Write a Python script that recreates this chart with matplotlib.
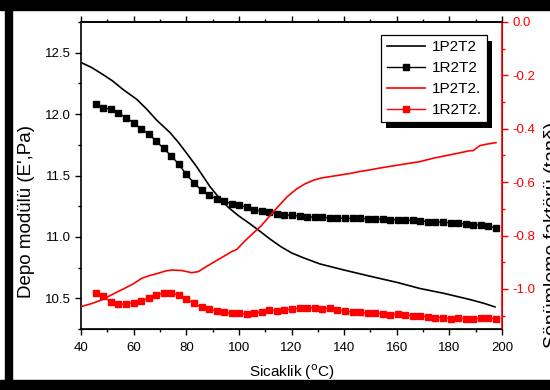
import matplotlib
matplotlib.use("Agg")
import matplotlib.pyplot as plt
from matplotlib.patches import Rectangle
from matplotlib.transforms import IdentityTransform

plt.rcParams['font.family'] = ['Liberation Sans', 'DejaVu Sans']

# 1P2T2 (left axis, line)
p_x = [40, 44, 48.5, 52, 56, 61.2, 65, 68.8, 73.8, 77, 80.2, 84, 86.5, 89, 92.8, 96, 100, 104,
       107.4, 112, 116, 120, 124.5, 130.8, 140, 149.8, 160, 168.8, 178, 187.8, 193, 197.3]
p_y = [12.42, 12.38, 12.32, 12.27, 12.20, 12.12, 12.04, 11.95, 11.85, 11.77, 11.68, 11.57, 11.49,
       11.41, 11.31, 11.24, 11.17, 11.11, 11.056, 10.98, 10.92, 10.87, 10.83, 10.78, 10.73, 10.68,
       10.63, 10.58, 10.54, 10.49, 10.46, 10.43]

# square series x positions
sq_x = [45.6, 48.5, 51.3, 54.2, 57.1, 60.0, 62.8, 65.7, 68.6, 71.4, 74.3, 77.2, 80.0, 82.9, 85.8,
        88.6, 91.5, 94.4, 97.3, 100.1, 103.0, 105.9, 108.7, 111.6, 114.5, 117.3, 120.2, 123.1,
        125.9, 128.8, 131.7, 134.6, 137.4, 140.3, 143.2, 146.0, 148.9, 151.8, 154.6, 157.5, 160.4,
        163.2, 166.1, 169.0, 171.9, 174.7, 177.6, 180.5, 183.3, 186.2, 189.1, 191.9, 194.8, 197.7]

# 1R2T2 (left axis, squares)
r_y = [12.08, 12.05, 12.04, 12.01, 11.97, 11.93, 11.88, 11.84, 11.78, 11.72, 11.66, 11.59, 11.51,
       11.44, 11.38, 11.34, 11.31, 11.29, 11.27, 11.26, 11.24, 11.22, 11.21, 11.20, 11.19, 11.18,
       11.175, 11.17, 11.165, 11.16, 11.16, 11.155, 11.155, 11.15, 11.15, 11.15, 11.148, 11.145,
       11.145, 11.14, 11.14, 11.135, 11.135, 11.13, 11.125, 11.12, 11.12, 11.115, 11.11, 11.105,
       11.10, 11.095, 11.085, 11.075]

# 1P2T2. (right axis, line)
pd_x = [40, 44, 47.9, 52, 56.7, 60, 63.1, 66, 69.4, 72, 74.5, 78.3, 82.1, 84.6, 87, 89.7, 93, 97.3,
        99.2, 102.3, 105, 108.3, 111, 114.3, 118.4, 122, 125, 128.5, 131.5, 134.8, 138, 142.4, 146,
        149.8, 153, 158, 163, 168.8, 174, 180, 184, 187.8, 189, 191.6, 194.5, 197.7]
pd_y = [-1.066, -1.055, -1.041, -1.020, -0.997, -0.980, -0.960, -0.950, -0.941, -0.933, -0.929,
        -0.931, -0.939, -0.935, -0.920, -0.904, -0.885, -0.860, -0.852, -0.820, -0.795, -0.765,
        -0.735, -0.698, -0.654, -0.625, -0.607, -0.592, -0.584, -0.579, -0.574, -0.567, -0.560,
        -0.554, -0.548, -0.540, -0.532, -0.523, -0.510, -0.498, -0.490, -0.482, -0.482, -0.463,
        -0.457, -0.452]

# 1R2T2. (right axis, squares)
rd_y = [-1.016, -1.026, -1.050, -1.056, -1.057, -1.051, -1.045, -1.035, -1.022, -1.016, -1.016,
        -1.022, -1.037, -1.054, -1.069, -1.074, -1.084, -1.087, -1.091, -1.091, -1.094, -1.090,
        -1.086, -1.080, -1.081, -1.079, -1.076, -1.072, -1.071, -1.070, -1.074, -1.072, -1.077,
        -1.084, -1.086, -1.087, -1.090, -1.090, -1.093, -1.096, -1.095, -1.098, -1.100, -1.101,
        -1.105, -1.107, -1.107, -1.112, -1.110, -1.111, -1.111, -1.110, -1.107, -1.113]

labels = ['1P2T2', '1R2T2', '1P2T2.', '1R2T2.']
x_ticks = [40, 60, 80, 100, 120, 140, 160, 180, 200]
left_ticks = [10.5, 11.0, 11.5, 12.0, 12.5]
right_ticks = [0.0, -0.2, -0.4, -0.6, -0.8, -1.0]

RED = '#ff0000'
W, H = 550, 390
fig = plt.figure(figsize=(5.5, 3.9), dpi=100)
ax = fig.add_axes([81 / W, 1 - 329 / H, (502 - 81) / W, (329 - 22) / H])
ax2 = ax.twinx()

l1, = ax.plot(p_x, p_y, color='black', lw=1.2)
l2, = ax.plot(sq_x, r_y, color='black', lw=1, marker='s', ms=4.2, mec='black', mfc='black')
l3, = ax2.plot(pd_x, pd_y, color=RED, lw=1.2)
l4, = ax2.plot(sq_x, rd_y, color=RED, lw=1, marker='s', ms=4.2, mec=RED, mfc=RED)

ax.set_xlim(40, 200)
ax.set_ylim(10.25, 12.75)
ax2.set_ylim(-1.15, 0.0)

ax.set_xticks(x_ticks)
ax.set_xticks([50, 70, 90, 110, 130, 150, 170, 190], minor=True)
ax.set_yticks(left_ticks)
ax.set_yticklabels(['10.5', '11.0', '11.5', '12.0', '12.5'])
ax.set_yticks([10.25, 10.75, 11.25, 11.75, 12.25, 12.75], minor=True)
ax2.set_yticks(right_ticks)
ax2.set_yticklabels(['0.0', '-0.2', '-0.4', '-0.6', '-0.8', '-1.0'])
ax2.set_yticks([-0.1, -0.3, -0.5, -0.7, -0.9, -1.1], minor=True)

for a in (ax, ax2):
    a.tick_params(which='major', length=4, width=1, labelsize=9.5)
    a.tick_params(which='minor', length=2.5, width=1)
ax.tick_params(axis='x', which='both', top=True, direction='out')
ax.tick_params(axis='x', which='major', pad=5.5)
ax.tick_params(axis='y', which='both', direction='out')
ax2.tick_params(axis='y', which='both', colors=RED, direction='out')
ax2.spines['right'].set_color(RED)
ax2.spines['right'].set_linewidth(1.2)
for s in ('left', 'bottom', 'top'):
    ax.spines[s].set_linewidth(1.2)
ax2.spines['left'].set_visible(False)
ax2.spines['top'].set_linewidth(1.2)

ax.set_xlabel('Sicaklik ($^{\\mathrm{o}}$C)', fontsize=11, labelpad=6)
fig.text(27 / W, 1 - 212 / H, "Depo modülü (E',Pa)", rotation=90, fontsize=13.5,
         ha='center', va='center')
fig.text(544 / W, 1 - 235 / H, 'Sönümleme faktörü (tanδ)', rotation=90, fontsize=14,
         ha='left', va='center')

leg = ax2.legend([l1, l2, l3, l4], labels, loc='upper right',
                 bbox_to_anchor=(487 / W, 1 - 35 / H), bbox_transform=fig.transFigure,
                 fancybox=False, edgecolor='black', framealpha=1, fontsize=11,
                 shadow=False, borderpad=0.35, labelspacing=0.45,
                 handlelength=2.5, handletextpad=0.45, borderaxespad=0)
leg.get_frame().set_linewidth(0.9)
leg.set_zorder(6)

# legend drop shadow (offset like the original)
fig.canvas.draw()
bb = leg.get_window_extent()
ax2.add_patch(Rectangle((bb.x0 + 5, bb.y0 - 6), bb.width, bb.height,
                        transform=IdentityTransform(), facecolor='black',
                        edgecolor='none', clip_on=False, zorder=5.5))

# figure border
fig.patches.append(Rectangle((5 / W, 0), 7 / W, 1, transform=fig.transFigure,
                             color='black', zorder=10))
fig.patches.append(Rectangle((0, 1 - 10 / H), 1, 10 / H, transform=fig.transFigure,
                             color='black', zorder=10))
fig.patches.append(Rectangle((0, 0), 1, 10 / H, transform=fig.transFigure,
                             color='black', zorder=10))

fig.savefig('out.png', dpi=100)
